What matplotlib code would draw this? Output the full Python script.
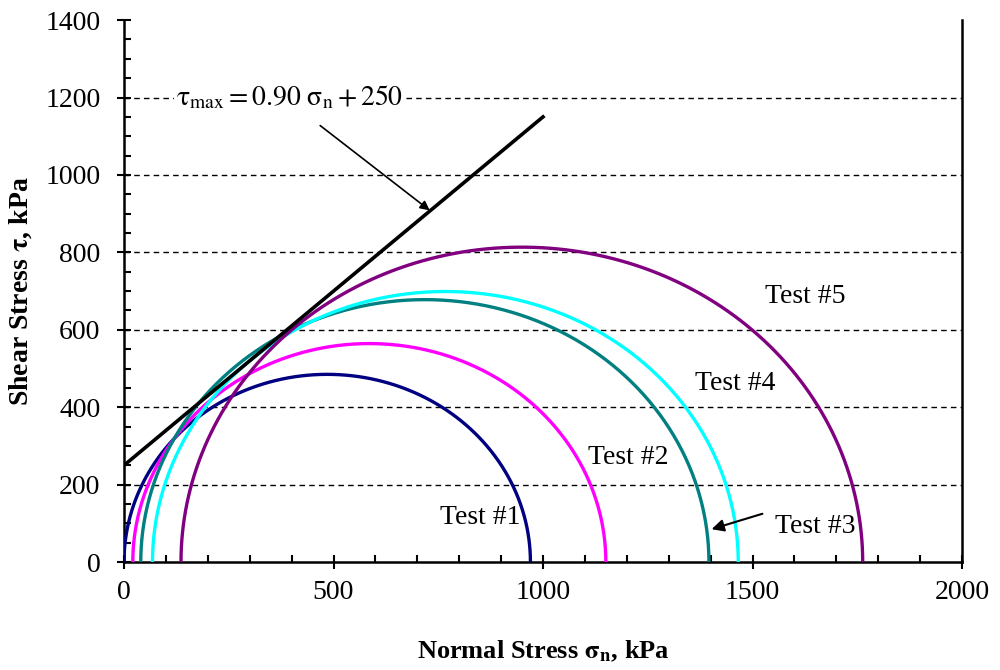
import numpy as np
import matplotlib.pyplot as plt
from matplotlib.ticker import MultipleLocator

plt.rcParams['font.family'] = ['Liberation Serif', 'DejaVu Serif']
plt.rcParams['mathtext.fontset'] = 'stix'

# Mohr circles: (sigma_3, sigma_1) in kPa for each test
tests = ['Test #1', 'Test #2', 'Test #3', 'Test #4', 'Test #5']
sigma3 = [0, 21, 40, 68, 136]
sigma1 = [970, 1150, 1396, 1466, 1763]
colors = ['#000080', '#FF00FF', '#008080', '#00FFFF', '#800080']

# failure envelope tau = 0.90 sigma + 250
slope = 0.90
intercept = 250
env_x = [0, 1000]

# label positions (data coords)
label_x = [850, 1203, 1649, 1458, 1625]
label_y = [116, 269, 93, 462, 685]

fig = plt.figure(figsize=(10, 6.7), dpi=100)
ax = fig.add_axes([0.124, 0.161, 0.838, 0.809])

for s3, s1, c in zip(sigma3, sigma1, colors):
    center = (s1 + s3) / 2
    radius = (s1 - s3) / 2
    th = np.linspace(0, np.pi, 400)
    ax.plot(center + radius * np.cos(th), radius * np.sin(th), color=c, lw=2.4, zorder=3)

ex = np.array(env_x)
ax.plot(ex, slope * ex + intercept, color='black', lw=2.6, zorder=4)

for name, lx, ly in zip(tests, label_x, label_y):
    ax.text(lx, ly, name, fontsize=20, ha='center', va='center', zorder=5)

ax.text(396, 1201, r'$\mathrm{\tau}_{\rm max} = 0.90\ \mathrm{\sigma}_{\rm n} + 250$',
        fontsize=20, ha='center', va='center', zorder=5,
        bbox=dict(facecolor='white', edgecolor='none', pad=2))
ax.annotate('', xy=(735, 904), xytext=(463, 1132),
            arrowprops=dict(arrowstyle='-|>', color='black', lw=1.2, mutation_scale=14), zorder=5)
ax.annotate('', xy=(1396, 83), xytext=(1530, 127),
            arrowprops=dict(arrowstyle='-|>', color='black', lw=1.5, mutation_scale=18), zorder=5)

ax.set_xlim(0, 2000)
ax.set_ylim(0, 1400)
ax.xaxis.set_major_locator(MultipleLocator(500))
ax.xaxis.set_minor_locator(MultipleLocator(100))
ax.yaxis.set_major_locator(MultipleLocator(200))
ax.yaxis.set_minor_locator(MultipleLocator(50))
ax.tick_params(which='major', direction='inout', length=10, width=1.5, labelsize=20)
ax.tick_params(axis='x', which='major', pad=8)
ax.tick_params(axis='y', which='major', pad=12)
ax.tick_params(which='minor', direction='in', length=5, width=1.5)
ax.tick_params(axis='y', which='both', right=False)

for yv in range(200, 1400, 200):
    ax.axhline(yv, color='black', lw=1, ls=(0, (4, 3)), zorder=1)

ax.spines['top'].set_visible(False)
for sp in ['left', 'bottom', 'right']:
    ax.spines[sp].set_linewidth(1.8)

ax.set_xlabel(r'Normal Stress $\mathbf{\sigma_n}$, kPa', fontsize=19, fontweight='bold', labelpad=24)
ax.set_ylabel(r'Shear Stress $\mathbf{\tau}$, kPa', fontsize=20, fontweight='bold', labelpad=8)

fig.savefig('out.png', dpi=100)
